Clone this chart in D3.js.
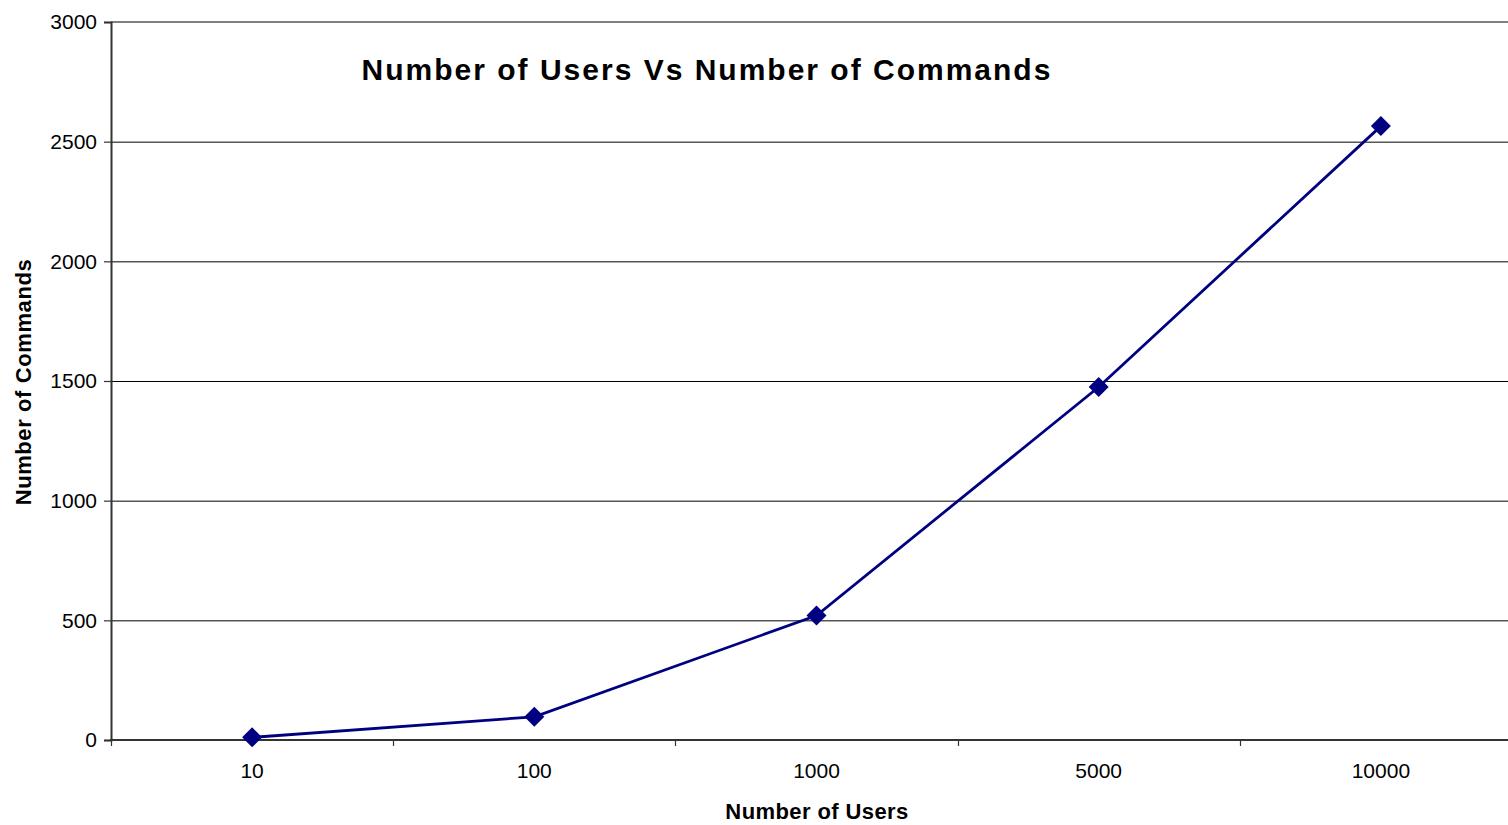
<!DOCTYPE html>
<html>
<head>
<meta charset="utf-8">
<script src="https://cdn.jsdelivr.net/npm/d3@7"></script>
<style>
  html, body { margin: 0; padding: 0; background: #fff; }
  svg { display: block; }
  text { font-family: "Liberation Sans", Arial, sans-serif; fill: #000; }
</style>
</head>
<body>
<svg id="chart" width="1508" height="825"></svg>
<script>
// Users (category labels) and observed command counts
const users = ["10", "100", "1000", "5000", "10000"];
const commands = [11, 97, 520, 1475, 2565];
const yTicks = [0, 500, 1000, 1500, 2000, 2500, 3000];

const title = "Number of Users Vs Number of Commands";
const xTitle = "Number of Users";
const yTitle = "Number of Commands";

const svg = d3.select("#chart");
const margin = { left: 111, top: 22, bottom: 740 };
const plotRight = 112 + 5 * 282;

const x = d3.scaleBand().domain(users).range([margin.left, plotRight]).padding(0);
const y = d3.scaleLinear().domain([0, 3000]).range([margin.bottom, margin.top]);

// horizontal gridlines
svg.append("g")
  .selectAll("line")
  .data(yTicks.filter(t => t > 0 && t < 3000))
  .join("line")
  .attr("x1", margin.left).attr("x2", 1508)
  .attr("y1", d => y(d) + 0.5).attr("y2", d => y(d) + 0.5)
  .attr("stroke", "#000").attr("stroke-width", 1);

// top border of the plot area
svg.append("line")
  .attr("x1", margin.left).attr("x2", 1508)
  .attr("y1", y(3000)).attr("y2", y(3000))
  .attr("stroke", "#808080").attr("stroke-width", 2);

// y axis
const yAxis = d3.axisLeft(y).tickValues(yTicks).tickSize(7).tickPadding(7).tickFormat(d3.format("d"));
const gy = svg.append("g").attr("transform", `translate(${margin.left},0)`).call(yAxis);
gy.select(".domain").attr("stroke", "#333").attr("stroke-width", 2);
gy.selectAll(".tick line").attr("stroke", "#333").attr("stroke-width", 1.2);
gy.selectAll(".tick text")
  .attr("font-size", 21)
  .attr("font-family", "Liberation Sans, Arial, sans-serif")
  .attr("fill", "#000");

// x axis with ticks at category boundaries
const gx = svg.append("g").attr("transform", `translate(0,${margin.bottom})`);
gx.append("line")
  .attr("x1", margin.left - 1).attr("x2", 1508)
  .attr("y1", 0).attr("y2", 0)
  .attr("stroke", "#333").attr("stroke-width", 2);
const bounds = users.map(u => x(u)).concat([plotRight]);
gx.selectAll("line.tk")
  .data(bounds)
  .join("line")
  .attr("class", "tk")
  .attr("x1", d => Math.round(d) + 0.5).attr("x2", d => Math.round(d) + 0.5)
  .attr("y1", 0).attr("y2", 6)
  .attr("stroke", "#333").attr("stroke-width", 1.2);
gx.selectAll("text")
  .data(users)
  .join("text")
  .attr("x", d => x(d) + x.bandwidth() / 2)
  .attr("y", 38)
  .attr("text-anchor", "middle")
  .attr("font-size", 21)
  .text(d => d);

// data line
const cx = d => x(d) + x.bandwidth() / 2;
const line = d3.line().x((d, i) => cx(users[i])).y(d => y(d));
svg.append("path")
  .datum(commands)
  .attr("d", line)
  .attr("fill", "none")
  .attr("stroke", "#000080")
  .attr("stroke-width", 2.8);

// diamond markers
svg.append("g")
  .selectAll("path")
  .data(commands)
  .join("path")
  .attr("transform", (d, i) => `translate(${cx(users[i])},${y(d)})`)
  .attr("d", "M0,-10L10,0L0,10L-10,0Z")
  .attr("fill", "#000080");

// titles
svg.append("text")
  .attr("x", 707).attr("y", 80)
  .attr("text-anchor", "middle")
  .attr("font-size", 30).attr("font-weight", "bold")
  .attr("letter-spacing", 2)
  .text(title);

svg.append("text")
  .attr("x", 817).attr("y", 819)
  .attr("text-anchor", "middle")
  .attr("font-size", 22).attr("font-weight", "bold")
  .attr("letter-spacing", 0.4)
  .text(xTitle);

svg.append("text")
  .attr("transform", "translate(31,382) rotate(-90)")
  .attr("text-anchor", "middle")
  .attr("font-size", 22).attr("font-weight", "bold")
  .attr("letter-spacing", 0.6)
  .text(yTitle);
</script>
</body>
</html>
